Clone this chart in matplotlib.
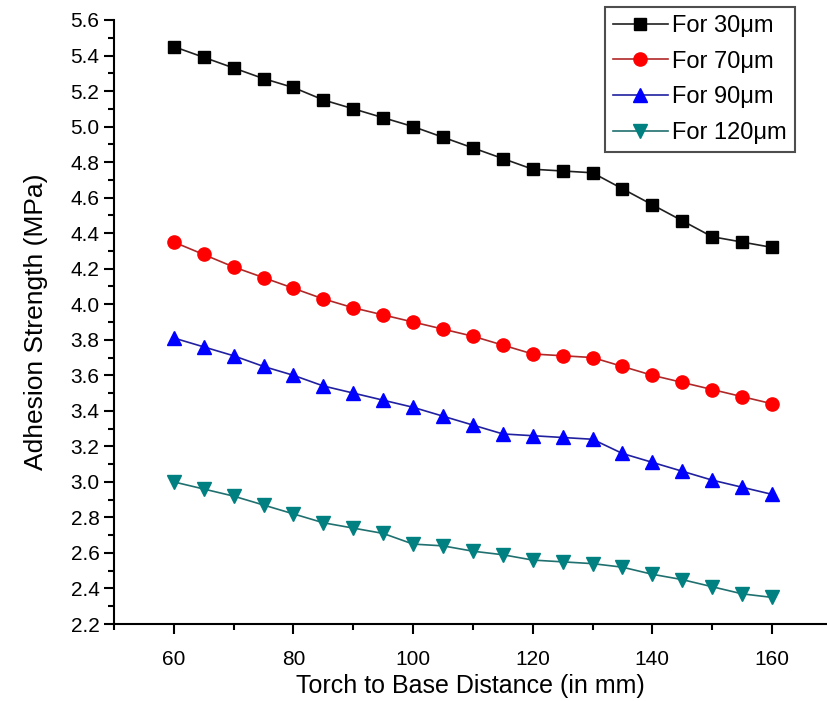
import matplotlib.pyplot as plt
from matplotlib.ticker import MultipleLocator

plt.rcParams["font.family"] = ["Liberation Sans", "DejaVu Sans"]

# Torch to base distance (mm)
distance = [60, 65, 70, 75, 80, 85, 90, 95, 100, 105, 110,
            115, 120, 125, 130, 135, 140, 145, 150, 155, 160]

# Adhesion strength (MPa) for each coating thickness
strength_30 = [5.45, 5.39, 5.33, 5.27, 5.22, 5.15, 5.10, 5.05, 5.00, 4.94, 4.88,
               4.82, 4.76, 4.75, 4.74, 4.65, 4.56, 4.47, 4.38, 4.35, 4.32]
strength_70 = [4.35, 4.28, 4.21, 4.15, 4.09, 4.03, 3.98, 3.94, 3.90, 3.86, 3.82,
               3.77, 3.72, 3.71, 3.70, 3.65, 3.60, 3.56, 3.52, 3.48, 3.44]
strength_90 = [3.81, 3.76, 3.71, 3.65, 3.60, 3.54, 3.50, 3.46, 3.42, 3.37, 3.32,
               3.27, 3.26, 3.25, 3.24, 3.16, 3.11, 3.06, 3.01, 2.97, 2.93]
strength_120 = [3.00, 2.96, 2.92, 2.87, 2.82, 2.77, 2.74, 2.71, 2.65, 2.64, 2.61,
                2.59, 2.56, 2.55, 2.54, 2.52, 2.48, 2.45, 2.41, 2.37, 2.35]

labels = ["For 30\u03bcm", "For 70\u03bcm", "For 90\u03bcm", "For 120\u03bcm"]

fig = plt.figure(figsize=(8.27, 7.01), dpi=100)
ax = fig.add_axes([0.1378, 0.1098, 0.8622, 0.8617])

# Plot each series
ax.plot(distance, strength_30, color="#202020", lw=1.2, marker="s", ms=8.5,
        mfc="black", mec="black", label=labels[0])
ax.plot(distance, strength_70, color="#b02828", lw=1.2, marker="o", ms=9.5,
        mfc="#ff0000", mec="#ff0000", label=labels[1])
ax.plot(distance, strength_90, color="#2020a0", lw=1.2, marker="^", ms=10,
        mfc="#0000ff", mec="#0000ff", label=labels[2])
ax.plot(distance, strength_120, color="#207070", lw=1.2, marker="v", ms=10,
        mfc="#008080", mec="#008080", label=labels[3])

ax.set_xlim(50, 169.2)
ax.set_ylim(2.2, 5.6)
ax.xaxis.set_minor_locator(MultipleLocator(10))
ax.yaxis.set_major_locator(MultipleLocator(0.2))
ax.yaxis.set_minor_locator(MultipleLocator(0.1))
ax.set_xticks([60, 80, 100, 120, 140, 160])
ax.yaxis.set_major_formatter(plt.FormatStrFormatter("%.1f"))

for side in ["top", "right"]:
    ax.spines[side].set_visible(False)
for side in ["left", "bottom"]:
    ax.spines[side].set_linewidth(1.5)

ax.tick_params(which="major", direction="out", length=7, width=1.5, labelsize=15)
ax.tick_params(which="minor", direction="out", length=4, width=1.5)
ax.tick_params(axis="x", which="major", pad=12)

ax.set_xlabel("Torch to Base Distance (in mm)", fontsize=18, labelpad=3)
ax.set_ylabel("Adhesion Strength (MPa)", fontsize=19, labelpad=16)

leg = ax.legend(loc="upper right", bbox_to_anchor=(0.962, 1.03), fontsize=17,
                frameon=True, fancybox=False, edgecolor="#222222",
                handlelength=2.3, handletextpad=0.2, borderpad=0.35,
                labelspacing=0.58, borderaxespad=0.2)
leg.get_frame().set_linewidth(1.5)

plt.savefig("out.png", dpi=100)
